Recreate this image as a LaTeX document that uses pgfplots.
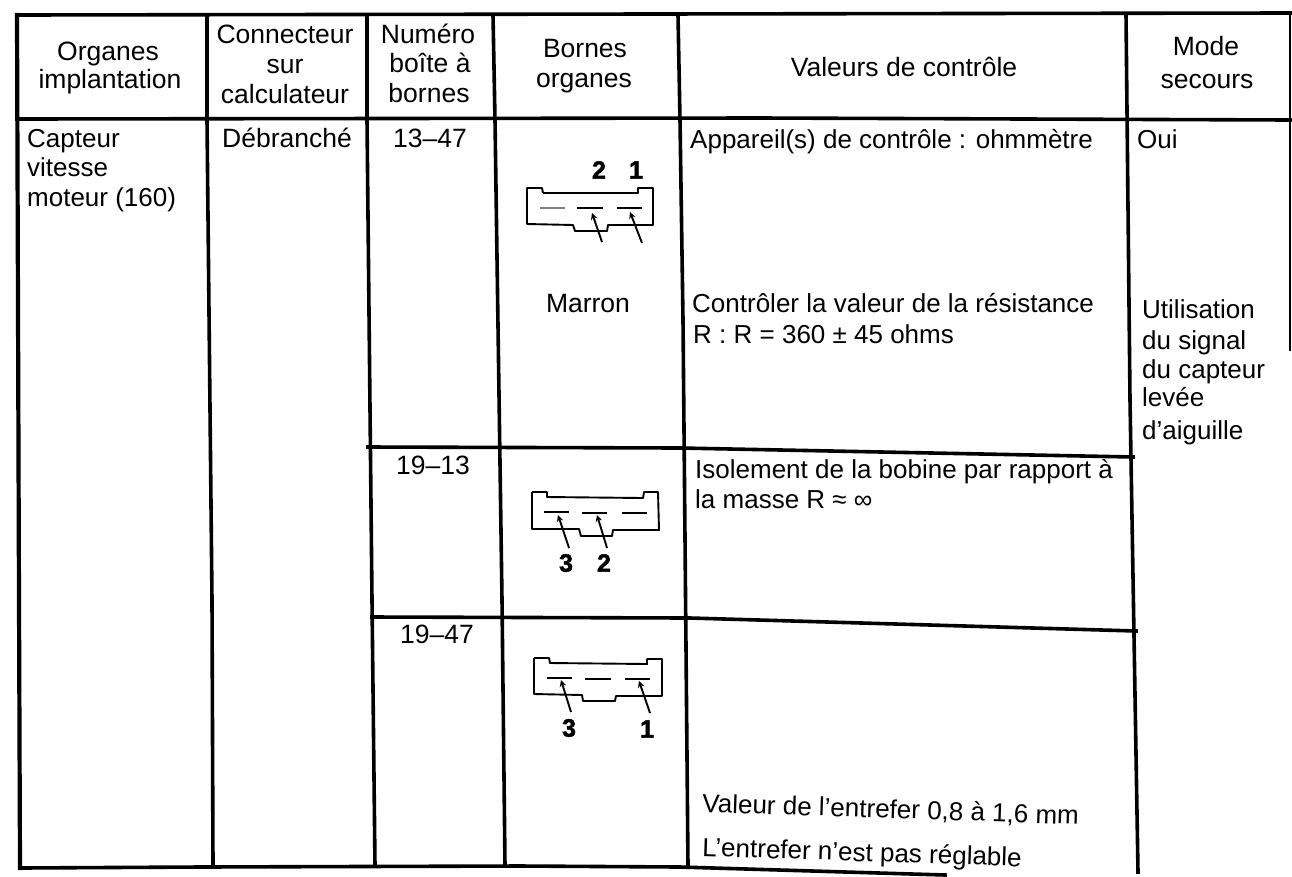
\documentclass[border=0pt]{standalone}
\usepackage{fontspec}
\setmainfont{Liberation Sans}
\usepackage{pgfplots}
\pgfplotsset{compat=1.18}
\newcommand\TL[4][0]{\node[anchor=base west,inner sep=0pt,rotate=#1,font=\fontsize{26}{28}\selectfont] at (axis cs:#2,#3) {#4};}
\newcommand\TC[3]{\node[anchor=base,inner sep=0pt,font=\fontsize{26.5}{28}\selectfont] at (axis cs:#1,#2) {#3};}
\newcommand\TB[3]{\node[anchor=center,inner sep=0pt,font=\bfseries\fontsize{25}{27}\selectfont] at (axis cs:#1,#2) {\addfontfeature{FakeBold=2}#3};}
\pgfplotsset{
  rule/.style={black,line width=3.6pt,no markers,forget plot,line cap=rect},
  thin/.style={black,line width=1.9pt,no markers,forget plot,line join=round},
  blade/.style={black,line width=1.6pt,no markers,forget plot},
  arr/.style={black,line width=1.9pt,no markers,forget plot,-{stealth}},
}
\begin{document}
\begin{tikzpicture}
\begin{axis}[
  scale only axis,width=1292pt,height=876pt,
  xmin=0,xmax=1292,ymin=0,ymax=876,y dir=reverse,hide axis,clip=true]
\addplot[draw=none,forget plot] coordinates {(0,0) (1292,876)};
% outer frame and column rules
\addplot[rule] coordinates {(17,15) (1290,13)};
\addplot[rule] coordinates {(17,119) (760,118) (1290,120)};
\addplot[rule,line width=4.2pt] coordinates {(17,15) (19,600) (20,868)};
\addplot[rule] coordinates {(207,15) (207,120) (212,600) (213,866)};
\addplot[rule] coordinates {(367,15) (367,120) (372,600) (375,866)};
\addplot[rule] coordinates {(493,15) (495,120) (502,600) (505,866)};
\addplot[rule] coordinates {(678,15) (680,120) (683,320) (688,866)};
\addplot[rule] coordinates {(1126,15) (1130,400) (1138,872)};
\addplot[rule,line width=2.8pt] coordinates {(1290,13) (1290,350)};
\addplot[rule] coordinates {(368,447) (680,448) (1133,457)};
\addplot[rule] coordinates {(372,617) (690,618) (1136,631)};
\addplot[rule] coordinates {(20,868) (200,867) (520,866) (680,867) (945,875)};
% connector 1
\addplot[thin] coordinates {(543,193) (638,193) (638,188) (653,188) (653,225) (608,225) (607,231) (575,231) (573,225) (527,224) (527,188) (542,188) (543,193)};
\addplot[blade,gray] coordinates {(540,208) (565,208)};
\addplot[blade] coordinates {(577,208) (603,208)};
\addplot[blade] coordinates {(617,208) (642,208)};
\addplot[arr] coordinates {(602,242) (592,213)};
\addplot[arr] coordinates {(642,243) (630,212)};
% connector 2
\addplot[thin] coordinates {(532,492) (547,492) (547,497) (643,498) (644,492) (658,492) (659,530) (613,530) (612,536) (581,536) (579,529) (532,529) (532,492)};
\addplot[blade] coordinates {(544,512) (569,512)};
\addplot[blade] coordinates {(582,513) (607,513)};
\addplot[blade] coordinates {(622,513) (647,513)};
\addplot[arr] coordinates {(569,548) (558,515)};
\addplot[arr] coordinates {(607,548) (597,515)};
% connector 3
\addplot[thin] coordinates {(534,658) (549,658) (550,663) (647,664) (647,659) (662,659) (662,696) (616,696) (615,701) (583,701) (582,695) (534,694) (534,658)};
\addplot[blade] coordinates {(547,678) (572,678)};
\addplot[blade] coordinates {(585,679) (611,679)};
\addplot[blade] coordinates {(625,679) (650,679)};
\addplot[arr] coordinates {(571,712) (561,680)};
\addplot[arr] coordinates {(650,713) (639,681)};
% header
\TC{108}{60}{Organes}
\TC{110}{88}{implantation}
\TC{285}{43}{Connecteur}
\TC{285}{73}{sur}
\TC{285}{103}{calculateur}
\TC{428}{43}{Numéro}
\TC{430}{72}{boîte à}
\TC{429}{102}{bornes}
\TC{585}{57}{Bornes}
\TC{584}{87}{organes}
\TC{904}{76}{Valeurs de contrôle}
\TC{1206}{55}{Mode}
\TC{1207}{88}{secours}
% body
\TL{27}{147}{Capteur}
\TL{27}{176}{vitesse}
\TL{27}{206}{moteur (160)}
\TC{287}{147}{Débranché}
\TC{430}{147}{13–47}
\TL{690}{148}{Appareil(s) de contrôle : ohmmètre}
\TL{1137}{148}{Oui}
\TC{588}{312}{Marron}
\TL{692}{312}{Contrôler la valeur de la résistance}
\TL{693}{343}{R : R = 360 ± 45 ohms}
\TL{1142}{318}{Utilisation}
\TL{1142}{349}{du signal}
\TL{1142}{378}{du capteur}
\TL{1142}{406}{levée}
\TL{1142}{439}{d’aiguille}
\TC{433}{474}{19–13}
\TL{695}{478}{Isolement de la bobine par rapport à}
\TL{695}{508}{la masse R ≈ ∞}
\TC{437}{643}{19–47}
\TL[-1.9]{702}{812}{Valeur de l’entrefer 0,8 à 1,6 mm}
\TL[-1.9]{702}{856}{L’entrefer n’est pas réglable}
% connector numbers
\TB{599}{170}{2}
\TB{636}{170}{1}
\TB{566}{563}{3}
\TB{604}{563}{2}
\TB{569}{728}{3}
\TB{647}{729}{1}
\end{axis}
\end{tikzpicture}
\end{document}
